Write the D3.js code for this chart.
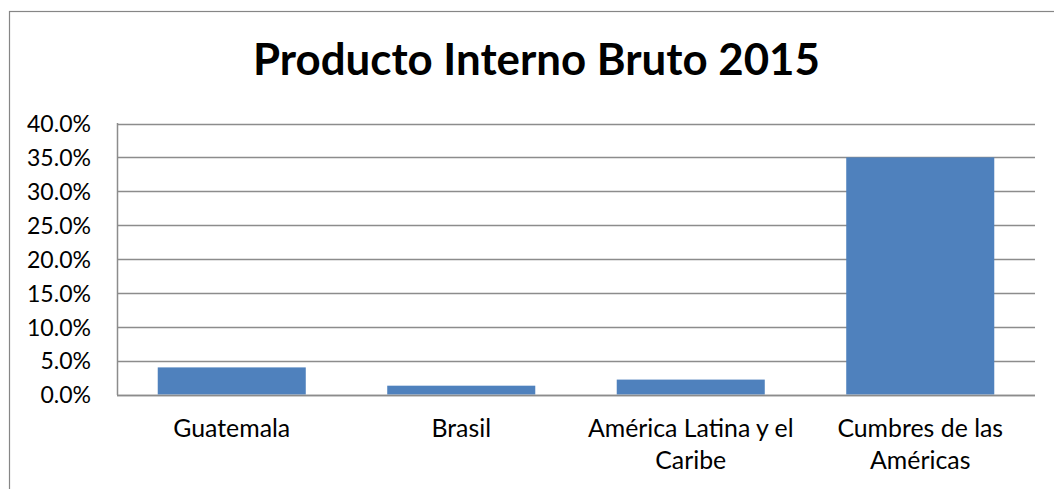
<!DOCTYPE html>
<html>
<head>
<meta charset="utf-8">
<script src="https://cdn.jsdelivr.net/npm/d3@7"></script>
<style>
  html, body { margin: 0; padding: 0; background: #fff; }
  svg { display: block; }
  text { font-family: Lato, "Open Sans", sans-serif; fill: #000; }
</style>
</head>
<body>
<svg id="chart" width="1054" height="489"></svg>
<script>
// ---- data ----
const titleText = "Producto Interno Bruto 2015";
const categories = ["Guatemala", "Brasil", "América Latina y el Caribe", "Cumbres de las Américas"];
const categoryLines = [["Guatemala"], ["Brasil"], ["América Latina y el", "Caribe"], ["Cumbres de las", "Américas"]];
const values = [0.040, 0.013, 0.022, 0.350];
const yTicks = [0, 0.05, 0.10, 0.15, 0.20, 0.25, 0.30, 0.35, 0.40];

// ---- layout ----
const W = 1054, H = 489;
const plot = { left: 117, right: 1035, top: 123.5, bottom: 394.5 };
const svg = d3.select("#chart");

// outer chart border (extends beyond the visible window on right/bottom)
svg.append("rect")
  .attr("x", 9.5).attr("y", 11.5)
  .attr("width", W + 20).attr("height", H + 20)
  .attr("fill", "#fff").attr("stroke", "#868686").attr("stroke-width", 1.2);

const x = d3.scaleBand().domain(categories).range([plot.left, plot.right]).paddingInner(0.355).paddingOuter(0.1775);
const y = d3.scaleLinear().domain([0, 0.40]).range([plot.bottom, plot.top]);

// fit helper: size text so its width matches a measured target
function fitSize(sel, text, targetWidth, weight) {
  const t = svg.append("text").attr("font-size", 100).attr("font-weight", weight).text(text);
  const w = t.node().getComputedTextLength();
  t.remove();
  return 100 * targetWidth / w;
}
const titleSize = fitSize(svg, titleText, 567, "bold");
const tickSize = fitSize(svg, "40.0%", 64, "normal");
const catSize = fitSize(svg, "Guatemala", 117, "normal");

// gridlines
const g = svg.append("g");
g.selectAll("line.grid").data(yTicks).join("line")
  .attr("class", "grid")
  .attr("x1", plot.left).attr("x2", plot.right)
  .attr("y1", d => Math.round(y(d)) + 0.5).attr("y2", d => Math.round(y(d)) + 0.5)
  .attr("stroke", "#8c8c8c").attr("stroke-width", 1.5);

// bars
g.selectAll("rect.bar").data(categories).join("rect")
  .attr("class", "bar")
  .attr("x", d => x(d))
  .attr("width", x.bandwidth())
  .attr("y", (d, i) => y(values[i]))
  .attr("height", (d, i) => y(0) - y(values[i]))
  .attr("fill", "#4f81bd");

// axes lines
svg.append("line").attr("x1", plot.left + 0.5).attr("x2", plot.left + 0.5)
  .attr("y1", plot.top - 0.5).attr("y2", plot.bottom + 0.5)
  .attr("stroke", "#8c8c8c").attr("stroke-width", 1.5);
svg.append("line").attr("x1", plot.left).attr("x2", plot.right)
  .attr("y1", Math.round(y(0)) + 0.5).attr("y2", Math.round(y(0)) + 0.5)
  .attr("stroke", "#8c8c8c").attr("stroke-width", 1.5);

// y axis labels via d3 axis
const yAxis = d3.axisLeft(y).tickValues(yTicks).tickFormat(d3.format(".1%")).tickSize(0).tickPadding(26);
const ya = svg.append("g").attr("transform", `translate(${plot.left},0)`).call(yAxis);
ya.select(".domain").remove();
ya.selectAll("text").attr("font-size", tickSize).attr("font-family", "Lato, 'Open Sans', sans-serif").attr("fill", "#000").attr("dy", "0.36em");

// x axis labels
const xl = svg.append("g");
categories.forEach((c, i) => {
  const cx = x(c) + x.bandwidth() / 2;
  const t = xl.append("text").attr("text-anchor", "middle").attr("font-size", catSize).attr("x", cx).attr("y", 437);
  categoryLines[i].forEach((ln, j) => {
    t.append("tspan").attr("x", cx).attr("y", 437 + j * 31.5).text(ln);
  });
});

// title
svg.append("text").attr("x", 536.5).attr("y", 75).attr("text-anchor", "middle")
  .attr("font-weight", "bold").attr("font-size", titleSize).text(titleText);
</script>
</body>
</html>
